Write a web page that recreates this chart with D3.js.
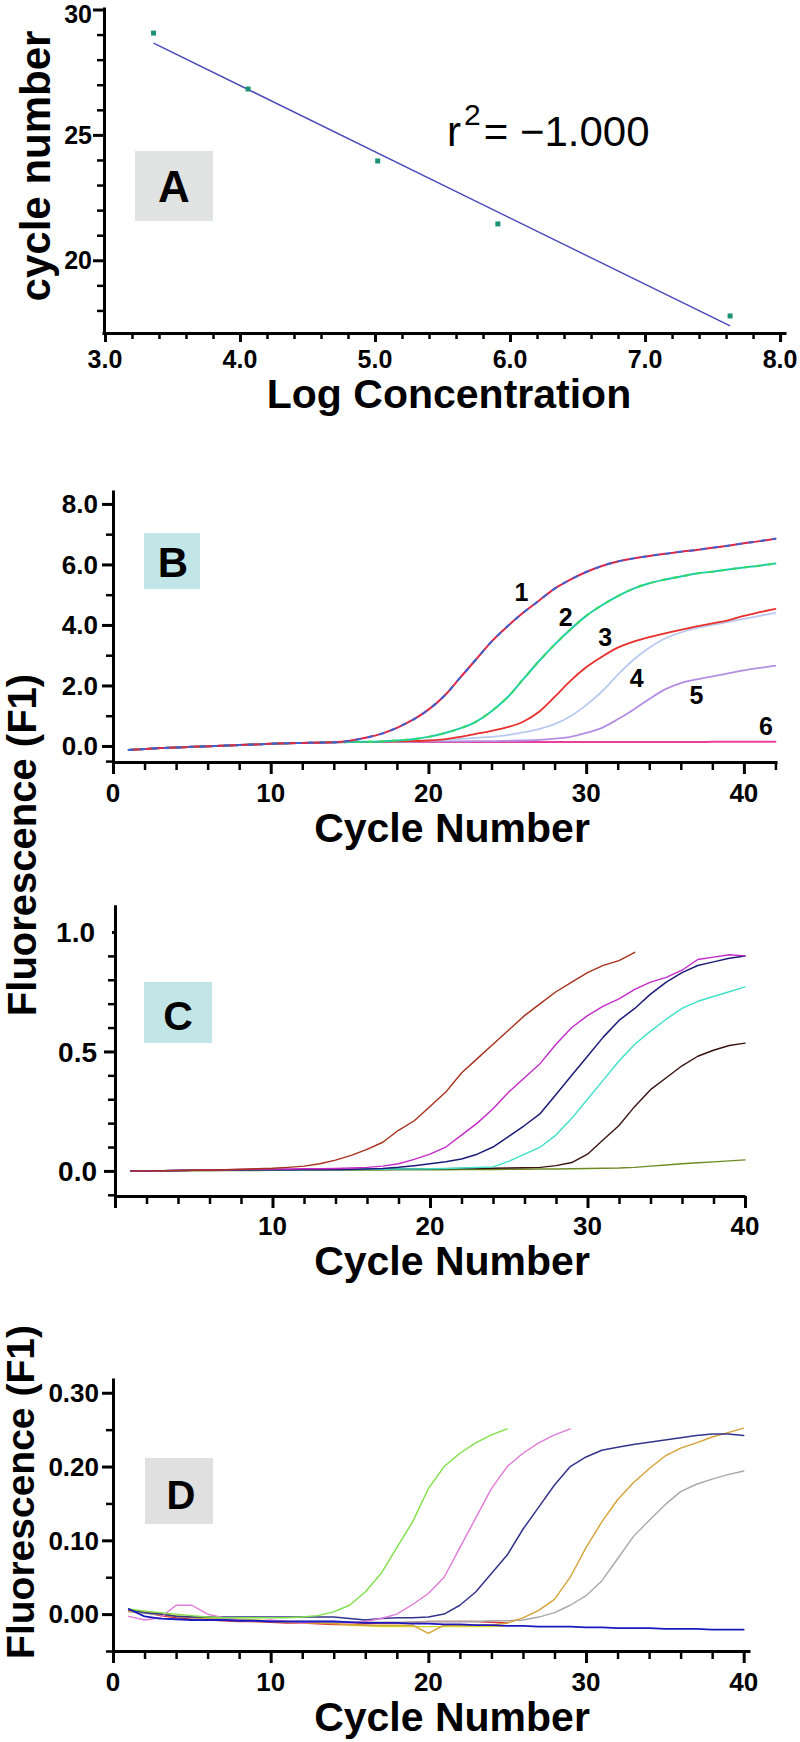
<!DOCTYPE html>
<html>
<head>
<meta charset="utf-8">
<script src="https://cdn.jsdelivr.net/npm/d3@7"></script>
<style>
  html, body { margin: 0; padding: 0; background: #fff; }
  svg { display: block; }
</style>
</head>
<body>
<script>
// ---------------- DATA ----------------
// Panel A: standard curve
const aLogConc   = [3.36, 4.06, 5.02, 5.91, 7.63];
const aCycle     = [29.06, 26.83, 23.96, 21.45, 17.78];
const aFitX      = [3.36, 7.63];
const aFitY      = [28.66, 17.38];
const aXTicks    = [3, 4, 5, 6, 7, 8];
const aXTickLabels = ["3.0", "4.0", "5.0", "6.0", "7.0", "8.0"];
const aYTicks    = [20, 25, 30];
const aRText     = "= \u22121.000";

// Panel B: amplification curves, cycles 1..42
const bCycles = [1,2,3,4,5,6,7,8,9,10,11,12,13,14,15,16,17,18,19,20,21,22,23,24,25,26,27,28,29,30,31,32,33,34,35,36,37,38,39,40,41,42];
const b1 = [-0.13,-0.10,-0.07,-0.05,-0.03,-0.01,0.01,0.03,0.05,0.07,0.09,0.10,0.11,0.12,0.17,0.27,0.40,0.60,0.86,1.20,1.65,2.25,2.85,3.45,3.95,4.40,4.80,5.20,5.50,5.75,5.95,6.10,6.20,6.28,6.35,6.42,6.48,6.55,6.62,6.70,6.77,6.85];
const b2 = [-0.13,-0.10,-0.07,-0.05,-0.03,-0.01,0.01,0.03,0.05,0.07,0.09,0.10,0.11,0.12,0.13,0.14,0.15,0.18,0.22,0.30,0.42,0.58,0.80,1.15,1.60,2.20,2.80,3.35,3.85,4.30,4.65,4.95,5.20,5.38,5.50,5.60,5.70,5.76,5.83,5.90,5.96,6.03];
const b3 = [-0.13,-0.10,-0.07,-0.05,-0.03,-0.01,0.01,0.03,0.05,0.07,0.09,0.10,0.11,0.12,0.13,0.13,0.14,0.15,0.16,0.18,0.22,0.30,0.40,0.50,0.62,0.80,1.12,1.62,2.15,2.60,2.95,3.25,3.45,3.60,3.72,3.84,3.95,4.05,4.15,4.30,4.42,4.53];
const b4 = [-0.13,-0.10,-0.07,-0.05,-0.03,-0.01,0.01,0.03,0.05,0.07,0.09,0.10,0.11,0.12,0.13,0.13,0.14,0.15,0.16,0.18,0.20,0.23,0.27,0.30,0.36,0.45,0.56,0.72,0.98,1.35,1.80,2.35,2.85,3.25,3.55,3.75,3.90,4.00,4.10,4.20,4.30,4.40];
const b5 = [-0.13,-0.10,-0.07,-0.05,-0.03,-0.01,0.01,0.03,0.05,0.07,0.09,0.10,0.11,0.12,0.13,0.13,0.13,0.14,0.14,0.15,0.15,0.15,0.16,0.16,0.17,0.18,0.20,0.24,0.30,0.43,0.60,0.88,1.20,1.55,1.87,2.08,2.20,2.30,2.40,2.50,2.58,2.65];
const b6 = [-0.13,-0.10,-0.07,-0.05,-0.03,-0.01,0.01,0.03,0.05,0.07,0.09,0.10,0.11,0.12,0.13,0.13,0.13,0.13,0.13,0.13,0.13,0.13,0.13,0.13,0.13,0.13,0.13,0.13,0.13,0.13,0.13,0.13,0.13,0.13,0.13,0.13,0.13,0.14,0.14,0.14,0.14,0.14];
const bLabelText   = ["1", "2", "3", "4", "5", "6"];
const bLabelCycle  = [25.9, 28.7, 31.2, 33.2, 37.0, 41.4];
const bLabelValue  = [5.10, 4.26, 3.60, 2.25, 1.69, 0.66];
const bYTicks = [0, 2, 4, 6, 8];
const bYTickLabels = ["0.0", "2.0", "4.0", "6.0", "8.0"];
const bYMinor = [-0.5, 1, 3, 5, 7];
const bXTicks = [0, 10, 20, 30, 40];

// Panel C: cycles 1..40
const cCycles = [1,2,3,4,5,6,7,8,9,10,11,12,13,14,15,16,17,18,19,20,21,22,23,24,25,26,27,28,29,30,31,32,33,34,35,36,37,38,39,40];
const c1 = [0.000,0.000,0.001,0.002,0.003,0.004,0.005,0.007,0.009,0.011,0.015,0.020,0.030,0.045,0.065,0.090,0.120,0.170,0.210,0.270,0.330,0.410,0.470,0.530,0.590,0.650,0.700,0.750,0.790,0.830,0.860,0.880,0.915,null,null,null,null,null,null,null];
const c2 = [0.000,0.000,0.001,0.002,0.003,0.004,0.005,0.006,0.007,0.008,0.008,0.009,0.009,0.010,0.012,0.015,0.020,0.030,0.048,0.070,0.100,0.150,0.200,0.260,0.330,0.390,0.450,0.530,0.600,0.650,0.690,0.720,0.760,0.790,0.810,0.840,0.885,0.895,0.905,0.900];
const c3 = [0.000,0.000,0.001,0.002,0.003,0.003,0.004,0.004,0.005,0.005,0.005,0.006,0.006,0.006,0.007,0.008,0.010,0.015,0.022,0.030,0.038,0.050,0.070,0.100,0.145,0.190,0.240,0.320,0.400,0.480,0.560,0.630,0.680,0.740,0.790,0.830,0.860,0.875,0.890,0.900];
const c4 = [0.000,0.000,0.001,0.002,0.003,0.003,0.004,0.004,0.005,0.005,0.005,0.005,0.006,0.006,0.006,0.007,0.007,0.008,0.008,0.009,0.010,0.012,0.014,0.017,0.040,0.070,0.100,0.150,0.220,0.300,0.380,0.460,0.530,0.585,0.635,0.680,0.710,0.730,0.750,0.770];
const c5 = [0.000,0.000,0.001,0.002,0.003,0.003,0.004,0.004,0.005,0.005,0.005,0.005,0.006,0.006,0.006,0.007,0.007,0.008,0.008,0.009,0.009,0.010,0.010,0.011,0.012,0.013,0.015,0.022,0.035,0.070,0.130,0.190,0.270,0.340,0.390,0.440,0.480,0.505,0.525,0.535];
const c6 = [0.000,0.000,0.000,0.001,0.001,0.001,0.002,0.002,0.002,0.003,0.003,0.003,0.003,0.004,0.004,0.004,0.004,0.005,0.005,0.005,0.005,0.006,0.006,0.006,0.007,0.007,0.008,0.008,0.009,0.010,0.011,0.012,0.015,0.020,0.025,0.030,0.034,0.038,0.042,0.046];
const cYTicks = [0, 0.5];
const cYTickLabels = ["0.0", "0.5"];
const cYTop = 1.0;
const cYTopLabel = "1.0";
const cYMinor = [-0.1, 0.1, 0.2, 0.3, 0.4, 0.6, 0.7, 0.8, 0.9];
const cXTicks = [0, 10, 20, 30, 40];
const cXTickLabels = ["", "10", "20", "30", "40"];

// Panel D: cycles 1..40
const dCycles = cCycles;
const dGreen  = [0.007,0.004,0.002,0.000,-0.002,-0.004,-0.005,-0.005,-0.005,-0.005,-0.005,-0.004,-0.002,0.003,0.012,0.030,0.055,0.090,0.125,0.170,0.200,0.218,0.232,0.243,0.251,null,null,null,null,null,null,null,null,null,null,null,null,null,null,null];
const dPink   = [-0.003,-0.008,-0.005,0.012,0.012,0.000,-0.005,-0.008,-0.010,-0.008,-0.010,-0.012,-0.010,-0.010,-0.012,-0.010,-0.006,0.000,0.013,0.028,0.050,0.090,0.130,0.170,0.200,0.218,0.232,0.243,0.251,null,null,null,null,null,null,null,null,null,null,null];
const dNavy   = [0.006,0.002,0.000,-0.003,-0.004,-0.004,-0.004,-0.004,-0.004,-0.004,-0.004,-0.004,-0.004,-0.004,-0.006,-0.008,-0.006,-0.005,-0.005,-0.004,0.000,0.012,0.030,0.055,0.080,0.115,0.145,0.175,0.200,0.213,0.222,0.226,0.230,0.233,0.236,0.239,0.242,0.244,0.244,0.242];
const dGold   = [0.004,0.002,0.000,-0.003,-0.005,-0.006,-0.008,-0.009,-0.010,-0.010,-0.011,-0.012,-0.012,-0.013,-0.014,-0.015,-0.015,-0.015,-0.015,-0.026,-0.015,-0.015,-0.015,-0.015,-0.012,-0.005,0.005,0.020,0.050,0.090,0.125,0.155,0.178,0.197,0.214,0.225,0.232,0.240,0.246,0.252];
const dGray   = [0.003,0.001,-0.001,-0.003,-0.005,-0.006,-0.007,-0.008,-0.009,-0.009,-0.010,-0.010,-0.010,-0.011,-0.011,-0.011,-0.011,-0.011,-0.011,-0.010,-0.010,-0.010,-0.010,-0.009,-0.009,-0.008,-0.004,0.002,0.012,0.025,0.045,0.075,0.105,0.127,0.148,0.166,0.176,0.183,0.189,0.194];
const dBlue   = [0.007,-0.003,-0.006,-0.007,-0.008,-0.008,-0.008,-0.009,-0.009,-0.010,-0.010,-0.010,-0.010,-0.010,-0.011,-0.012,-0.012,-0.012,-0.013,-0.013,-0.014,-0.014,-0.015,-0.015,-0.016,-0.016,-0.017,-0.017,-0.017,-0.018,-0.018,-0.019,-0.019,-0.019,-0.020,-0.020,-0.020,-0.021,-0.021,-0.021];
const dRed    = [0.005,0.002,-0.002,-0.005,-0.007,-0.008,-0.009,-0.010,-0.010,-0.011,-0.012,-0.012,-0.013,-0.014,-0.014,-0.013,-0.012,-0.012,-0.011,-0.010,-0.010,-0.010,-0.010,-0.011,-0.012,null,null,null,null,null,null,null,null,null,null,null,null,null,null,null];
const dYellow = [0.006,0.004,0.001,-0.002,-0.004,-0.005,-0.006,-0.007,-0.008,-0.009,-0.010,-0.011,-0.012,-0.013,-0.015,-0.016,-0.017,-0.017,-0.017,-0.017,-0.017,-0.017,-0.017,-0.017,-0.016,null,null,null,null,null,null,null,null,null,null,null,null,null,null,null];
const dYTicks = [0, 0.1, 0.2, 0.3];
const dYTickLabels = ["0.00", "0.10", "0.20", "0.30"];
const dYMinor = [-0.05, 0.05, 0.15, 0.25];
const dXTicks = [0, 10, 20, 30, 40];

// ---------------- DRAWING ----------------
const FONT = "'Liberation Sans', Arial, Helvetica, sans-serif";
const svg = d3.select("body").append("svg").attr("width", 800).attr("height", 1742);
svg.append("rect").attr("width", 800).attr("height", 1742).attr("fill", "#fff");

function styleAxis(g, w) {
  g.selectAll("path.domain").attr("stroke", "#000").attr("stroke-width", 3);
  g.selectAll("line").attr("stroke", "#000").attr("stroke-width", w);
  g.selectAll("text").remove();
}
function yAxis(scale, x, major, minor, majLen, minLen) {
  const gMin = svg.append("g").attr("transform", `translate(${x},0)`)
    .call(d3.axisLeft(scale).tickValues(minor).tickSize(minLen).tickSizeOuter(0).tickFormat(""));
  styleAxis(gMin, 2.5);
  const gMaj = svg.append("g").attr("transform", `translate(${x},0)`)
    .call(d3.axisLeft(scale).tickValues(major).tickSize(majLen).tickSizeOuter(0).tickFormat(""));
  styleAxis(gMaj, 3);
  gMaj.select("path.domain").remove();
}
function xAxis(scale, y, major, minor, majLen, minLen) {
  const gMin = svg.append("g").attr("transform", `translate(0,${y})`)
    .call(d3.axisBottom(scale).tickValues(minor).tickSize(minLen).tickSizeOuter(0).tickFormat(""));
  styleAxis(gMin, 2.5);
  const gMaj = svg.append("g").attr("transform", `translate(0,${y})`)
    .call(d3.axisBottom(scale).tickValues(major).tickSize(majLen).tickSizeOuter(0).tickFormat(""));
  styleAxis(gMaj, 3);
  gMaj.select("path.domain").remove();
}
function text(x, y, s, size, opts = {}) {
  const t = svg.append("text").attr("x", x).attr("y", y).text(s)
    .attr("font-family", FONT).attr("font-size", size)
    .attr("font-weight", opts.weight || "bold")
    .attr("text-anchor", opts.anchor || "middle")
    .attr("fill", "#000");
  if (opts.rotate) t.attr("transform", `rotate(-90,${x},${y})`);
  if (opts.dy) t.attr("dy", opts.dy);
  return t;
}
// tick labels on the left: baseline placed at tick + 0.36em, kept inside the page
function yLabels(scale, x, vals, labels, size) {
  vals.forEach((v, i) => {
    const base = Math.max(scale(v) + 0.36 * size, 0.93 * size);
    text(x, base, labels[i], size, { anchor: "end" });
  });
}
function xLabels(scale, y, vals, labels, size) {
  vals.forEach((v, i) => { if (labels[i] !== "") text(scale(v), y, labels[i], size); });
}
function box(x, y, w, h, fill, letter, size, tx, ty) {
  svg.append("rect").attr("x", x).attr("y", y).attr("width", w).attr("height", h).attr("fill", fill);
  text(tx, ty, letter, size);
}
function series(xs, ys, xScale, yScale, color, width, curve, dash) {
  const line = d3.line()
    .defined((d, i) => ys[i] !== null)
    .x((d, i) => xScale(xs[i]))
    .y((d, i) => yScale(ys[i]))
    .curve(curve || d3.curveLinear);
  const p = svg.append("path").attr("d", line(xs)).attr("fill", "none")
    .attr("stroke", color).attr("stroke-width", width)
    .attr("stroke-linejoin", "round").attr("stroke-linecap", "round");
  if (dash) p.attr("stroke-dasharray", dash);
  return p;
}

// ===== Panel A =====
const xA = d3.scaleLinear().domain([2.978, 8.044]).range([102, 786]);
const yA = d3.scaleLinear().domain([17.1, 30.1]).range([333, 7]);
const aYMinor = [18, 19, 21, 22, 23, 24, 26, 27, 28, 29];
const aXMinor = [3.2,3.4,3.6,3.8,4.2,4.4,4.6,4.8,5.2,5.4,5.6,5.8,6.2,6.4,6.6,6.8,7.2,7.4,7.6,7.8];
yAxis(yA, 104, aYTicks, aYMinor, 11, 7);
xAxis(xA, 333, aXTicks, aXMinor, 9, 6);
yLabels(yA, 92, aYTicks, aYTicks.map(String), 25);
xLabels(xA, 368, aXTicks, aXTickLabels, 25);
text(449, 408, "Log Concentration", 41);
text(50, 166, "cycle number", 42, { rotate: true });
box(135, 151, 78, 70, "#e1e3e3", "A", 44, 174, 202);
svg.append("line")
  .attr("x1", xA(aFitX[0])).attr("y1", yA(aFitY[0]))
  .attr("x2", xA(aFitX[1])).attr("y2", yA(aFitY[1]))
  .attr("stroke", "#4848b8").attr("stroke-width", 1.4);
svg.selectAll("rect.pt").data(aLogConc).enter().append("rect").attr("class", "pt")
  .attr("x", (d) => xA(d) - 2.5).attr("y", (d, i) => yA(aCycle[i]) - 2.5)
  .attr("width", 5).attr("height", 5).attr("fill", "#1b9273");
const rt = svg.append("text").attr("x", 447).attr("y", 146)
  .attr("font-family", FONT).attr("font-size", 42).attr("fill", "#000");
rt.append("tspan").text("r");
rt.append("tspan").attr("dx", 3).attr("dy", -21).attr("font-size", 30).text("2");
rt.append("tspan").attr("dx", 3).attr("dy", 21).text(aRText);

// ===== Panel B =====
const xB = d3.scaleLinear().domain([0, 42.1]).range([113, 777]);
const yB = d3.scaleLinear().domain([-0.53, 8.46]).range([762, 490]);
const bXMinor = [2,4,6,8,12,14,16,18,22,24,26,28,32,34,36,38,42];
yAxis(yB, 113, bYTicks, bYMinor, 11, 7);
xAxis(xB, 762, bXTicks, bXMinor, 12, 8);
yLabels(yB, 98, bYTicks, bYTickLabels, 26);
xLabels(xB, 802, bXTicks, bXTicks.map(String), 26);
text(452, 842, "Cycle Number", 41);
box(144, 533, 56, 56, "#c2e5e7", "B", 42, 173, 577);
const sm = d3.curveMonotoneX;
series(bCycles, b6, xB, yB, "#e8409a", 2, sm);
series(bCycles, b5, xB, yB, "#b48ee2", 1.8, sm);
series(bCycles, b4, xB, yB, "#b9caf0", 1.8, sm);
series(bCycles, b3, xB, yB, "#e8302c", 1.8, sm);
series(bCycles, b2, xB, yB, "#1fcfa2", 2, sm);
series(bCycles, b2, xB, yB, "#38d868", 2, sm, "3,9");
series(bCycles, b1, xB, yB, "#dc2848", 2, sm);
series(bCycles, b1, xB, yB, "#3c62d4", 2, sm, "4,8");
bLabelText.forEach((s, i) => text(xB(bLabelCycle[i]), yB(bLabelValue[i]), s, 25, { dy: "0.36em" }));

// ===== Panel C =====
const xC = d3.scaleLinear().domain([0, 40]).range([115, 745]);
const yC = d3.scaleLinear().domain([-0.105, 1.113]).range([1196, 905]);
const cXMinor = [2,4,6,8,12,14,16,18,22,24,26,28,32,34,36,38];
yAxis(yC, 115, cYTicks, cYMinor, 11, 7);
yAxis(yC, 115, [cYTop], [], 3, 0);
xAxis(xC, 1196, cXTicks, cXMinor, 12, 8);
yLabels(yC, 97, cYTicks, cYTickLabels, 28);
yLabels(yC, 95, [cYTop], [cYTopLabel], 28);
xLabels(xC, 1235, cXTicks, cXTickLabels, 26);
text(452, 1275, "Cycle Number", 41);
box(144, 982, 68, 61, "#c2e5e7", "C", 41, 178, 1030);
series(cCycles, c6, xC, yC, "#6e8c22", 1.4);
series(cCycles, c5, xC, yC, "#3a1212", 1.4);
series(cCycles, c4, xC, yC, "#3ee0c8", 1.4);
series(cCycles, c3, xC, yC, "#1c1c78", 1.5);
series(cCycles, c2, xC, yC, "#c42ac8", 1.4);
series(cCycles, c1, xC, yC, "#a8301c", 1.4);

text(36, 845, "Fluorescence (F1)", 40, { rotate: true });

// ===== Panel D =====
const xD = d3.scaleLinear().domain([0, 40.4]).range([113, 750]);
const yD = d3.scaleLinear().domain([-0.05, 0.32]).range([1651, 1378]);
const dXMinor = [2,4,6,8,12,14,16,18,22,24,26,28,32,34,36,38];
yAxis(yD, 113, dYTicks, dYMinor, 11, 7);
xAxis(xD, 1651, dXTicks, dXMinor, 12, 8);
yLabels(yD, 99, dYTicks, dYTickLabels, 26);
xLabels(xD, 1691, dXTicks, dXTicks.map(String), 26);
text(452, 1731, "Cycle Number", 41);
text(34, 1492, "Fluorescence (F1)", 39, { rotate: true });
box(145, 1458, 68, 66, "#e0e0e0", "D", 40, 181, 1509);
series(dCycles, dYellow, xD, yD, "#d8d430", 1.4);
series(dCycles, dRed, xD, yD, "#e03030", 1.4);
series(dCycles, dGray, xD, yD, "#a8a8a8", 1.4);
series(dCycles, dGold, xD, yD, "#d4a235", 1.4);
series(dCycles, dNavy, xD, yD, "#34348c", 1.5);
series(dCycles, dPink, xD, yD, "#e07ad8", 1.4);
series(dCycles, dGreen, xD, yD, "#7ee046", 1.4);
series(dCycles, dBlue, xD, yD, "#1a1ac0", 1.8);
</script>
</body>
</html>
